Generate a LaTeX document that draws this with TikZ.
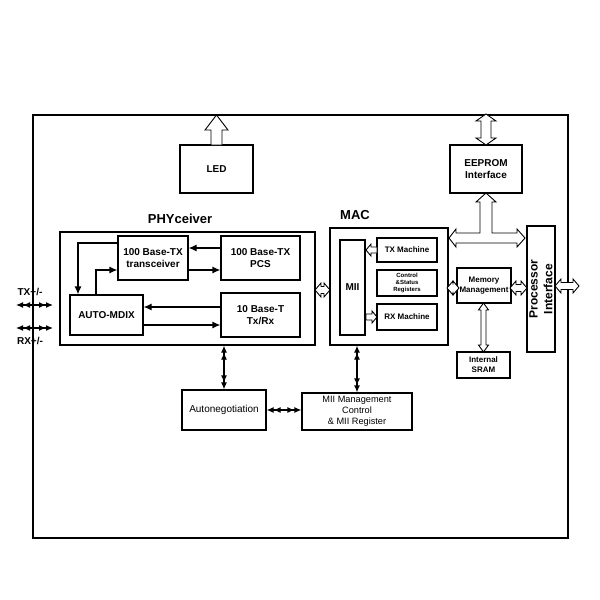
\documentclass[tikz,border=0pt]{standalone}
\usepackage{fontspec}
\setmainfont{Liberation Sans}
\usetikzlibrary{arrows.meta}
\tikzset{
  blk/.style={draw, line width=0.6pt, inner sep=0pt, align=center, font=\fontsize{5}{6}\selectfont\bfseries},
  hol/.style={draw, fill=white, line width=0.45pt, line join=miter},
  dbl/.style={line width=0.6pt, {Latex[length=3.5pt,width=3pt]Latex[length=3.5pt,width=3pt]}-{Latex[length=3.5pt,width=3pt]Latex[length=3.5pt,width=3pt]}},
  sgl/.style={line width=0.6pt, -{Latex[length=4pt,width=3.5pt]}}
}
% hollow arrows: \hhol{x1}{x2}{y} both heads, \vhol{x}{y1}{y2}{half shaft}{half head} both heads
\newcommand\hhol[3]{\path[hol] (#1,#3) -- ({#1+6},{#3-7}) -- ({#1+6},{#3-3.5}) -- ({#2-6},{#3-3.5}) -- ({#2-6},{#3-7}) -- (#2,#3) -- ({#2-6},{#3+7}) -- ({#2-6},{#3+3.5}) -- ({#1+6},{#3+3.5}) -- ({#1+6},{#3+7}) -- cycle;}
\newcommand\vhol[5]{\path[hol] (#1,#2) -- ({#1-#5},{#2+7}) -- ({#1-#4},{#2+7}) -- ({#1-#4},{#3-7}) -- ({#1-#5},{#3-7}) -- (#1,#3) -- ({#1+#5},{#3-7}) -- ({#1+#4},{#3-7}) -- ({#1+#4},{#2+7}) -- ({#1+#5},{#2+7}) -- cycle;}
% single head at right end
\newcommand\rhol[3]{\path[hol] (#1,{#3-3}) -- ({#2-5},{#3-3}) -- ({#2-5},{#3-6}) -- (#2,#3) -- ({#2-5},{#3+6}) -- ({#2-5},{#3+3}) -- (#1,{#3+3}) -- cycle;}
% single head at left end
\newcommand\lhol[3]{\path[hol] (#2,{#3-3}) -- ({#1+5},{#3-3}) -- ({#1+5},{#3-6}) -- (#1,#3) -- ({#1+5},{#3+6}) -- ({#1+5},{#3+3}) -- (#2,{#3+3}) -- cycle;}
\begin{document}
\begin{tikzpicture}[x=0.5pt,y=-0.5pt]
\useasboundingbox (0,0) rectangle (600,600);
% frame
\draw[line width=0.6pt] (33,115) rectangle (568,538);

% top blocks
\node[blk, minimum width=36.5pt, minimum height=24pt] (led) at (216.5,169) {LED};
\node[blk, minimum width=36pt, minimum height=24pt] (eeprom) at (486,169) {EEPROM\\Interface};
\path[hol] (216.5,115) -- (205,130) -- (211,130) -- (211,145) -- (222,145) -- (222,130) -- (228,130) -- cycle;
\vhol{486}{114}{145}{5}{10}

% PHYceiver
\node[blk, minimum width=127.5pt, minimum height=56.5pt] (phy) at (187.5,288.5) {};
\node[font=\fontsize{6.5}{8}\selectfont\bfseries, anchor=south] at (180,231) {PHYceiver};
\node[blk, minimum width=35pt, minimum height=22pt] (trx) at (153,258) {100 Base-TX\\transceiver};
\node[blk, minimum width=39.5pt, minimum height=22pt] (pcs) at (260.5,258) {100 Base-TX\\PCS};
\node[blk, minimum width=36.5pt, minimum height=20pt] (mdix) at (106.5,315) {AUTO-MDIX};
\node[blk, minimum width=39.5pt, minimum height=22pt] (tenbt) at (260.5,315) {10 Base-T\\Tx/Rx};

\draw[sgl] (pcs.west |- 0,248) -- (trx.east |- 0,248);
\draw[sgl] (trx.east |- 0,270) -- (pcs.west |- 0,270);
\draw[sgl] (trx.west |- 0,243) -| (mdix.north -| 78,0);
\draw[sgl] (mdix.north -| 96,0) |- (trx.west |- 0,270);
\draw[sgl] (tenbt.west |- 0,307) -- (mdix.east |- 0,307);
\draw[sgl] (mdix.east |- 0,325) -- (tenbt.west |- 0,325);

% line side
\node[font=\fontsize{5}{6}\selectfont\bfseries] (tx) at (30,292) {TX+/-};
\node[font=\fontsize{5}{6}\selectfont\bfseries] (rx) at (30,341) {RX+/-};
\coordinate (txa) at (16,305); \coordinate (txb) at (53,305);
\coordinate (rxa) at (16,328); \coordinate (rxb) at (53,328);
\draw[dbl] (txa) -- (txb);
\draw[dbl] (rxa) -- (rxb);

% MAC
\node[blk, minimum width=59pt, minimum height=58.5pt] (mac) at (389,286.5) {};
\node[font=\fontsize{6.5}{8}\selectfont\bfseries, anchor=south] at (355,227) {MAC};
\node[blk, minimum width=12.5pt, minimum height=47.5pt] (mii) at (352.5,287.5) {MII};
\node[blk, minimum width=30pt, minimum height=12pt, font=\fontsize{4}{5}\selectfont\bfseries] (txm) at (407,250) {TX Machine};
\node[blk, minimum width=30pt, minimum height=13pt, font=\fontsize{3}{3.6}\selectfont\bfseries] (csr) at (407,283) {Control\\\&Status\\Registers};
\node[blk, minimum width=30pt, minimum height=13pt, font=\fontsize{4}{5}\selectfont\bfseries] (rxm) at (407,317) {RX Machine};
\lhol{366}{377}{250}
\rhol{366}{377}{317}
\hhol{315}{330}{290}

% memory, processor
\node[blk, minimum width=27pt, minimum height=17.5pt, font=\fontsize{4}{5}\selectfont\bfseries] (mem) at (484,285.5) {Memory\\Management};
\node[blk, minimum width=14pt, minimum height=63pt, font=\fontsize{6}{6.5}\selectfont\bfseries] (proc) at (541,289) {\rotatebox{90}{\shortstack{Processor\\Interface}}};
\node[blk, minimum width=26.5pt, minimum height=13pt, font=\fontsize{4}{5}\selectfont\bfseries] (sram) at (483.5,365) {Internal\\SRAM};
% T-shaped bus to EEPROM
\path[hol] (449,238) -- (456,229) -- (456,233) -- (480,233) -- (480,202) -- (476,202) -- (486,193)
  -- (496,202) -- (492,202) -- (492,233) -- (517,233) -- (517,229) -- (525,238) -- (517,247)
  -- (517,243) -- (456,243) -- (456,247) -- cycle;
\hhol{447}{459}{288}
\hhol{510}{527}{288}
\hhol{555}{579}{286}
\vhol{483.5}{303}{352}{2.5}{5}

% bottom blocks
\node[blk, minimum width=42pt, minimum height=20pt, font=\fontsize{5}{6}\selectfont] (auto) at (224,410) {Autonegotiation};
\node[blk, minimum width=55pt, minimum height=18.5pt, font=\fontsize{4.6}{5.4}\selectfont] (mgmt) at (357,411.5) {MII Management\\Control\\\& MII Register};
\draw[dbl] (phy.south -| auto.north) -- (auto.north);
\draw[dbl] (mac.south -| 357,0) -- (mgmt.north);
\draw[dbl] (auto.east) -- (mgmt.west |- auto.east);
\end{tikzpicture}
\end{document}
